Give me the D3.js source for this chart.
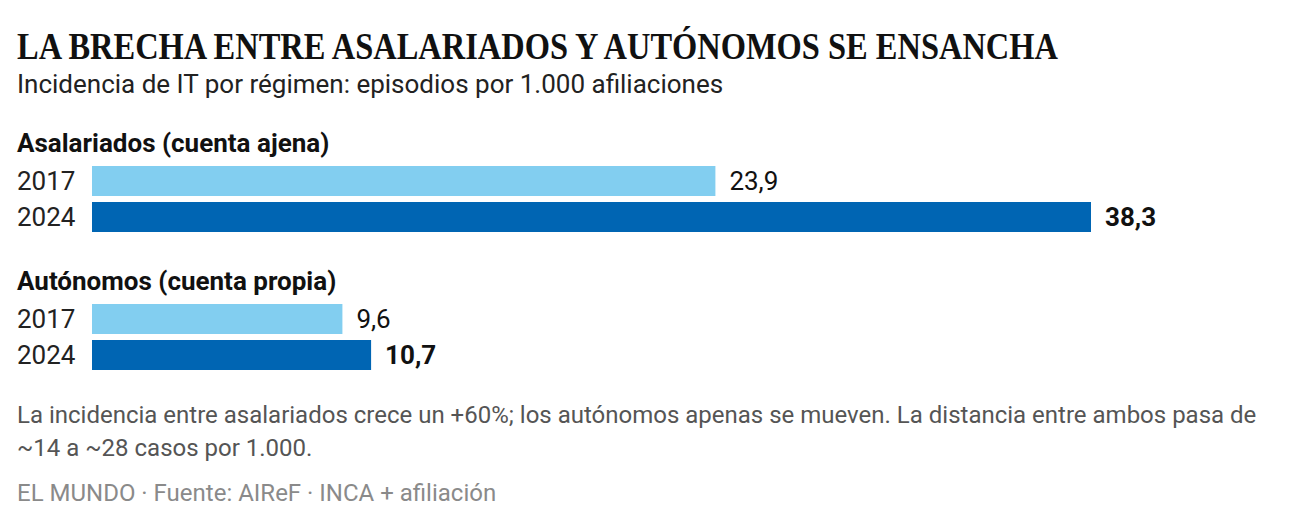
<!DOCTYPE html>
<html lang="es">
<head>
<meta charset="utf-8">
<style>
  body { margin: 0; background: #fff; }
  svg { display: block; }
  text { font-family: Roboto, "Noto Sans", sans-serif; }
</style>
</head>
<body>
<script src="https://d3js.org/d3.v7.min.js"></script>
<script>
  // data
  const groups = ["Asalariados (cuenta ajena)", "Autónomos (cuenta propia)"];
  const years = ["2017", "2024"];
  const values2017 = [23.9, 9.6];
  const values2024 = [38.3, 10.7];

  const width = 1292, height = 526;
  const colors = {"2017": "#82cef0", "2024": "#0065b3"};

  const svg = d3.select("body").append("svg")
    .attr("width", width)
    .attr("height", height);

  const es = d3.formatLocale({decimal: ",", thousands: ".", grouping: [3], currency: ["", " €"]});
  const fmt = es.format(".1f");

  // titles
  svg.append("text")
    .attr("x", 17).attr("y", 59)
    .attr("textLength", 1041)
    .attr("lengthAdjust", "spacingAndGlyphs")
    .style("font-family", "'Liberation Serif', 'DejaVu Serif', serif")
    .style("font-weight", 700)
    .style("font-size", "37px")
    .attr("fill", "#111")
    .text("LA BRECHA ENTRE ASALARIADOS Y AUTÓNOMOS SE ENSANCHA");

  svg.append("text")
    .attr("x", 17).attr("y", 93)
    .style("font-size", "26px")
    .attr("fill", "#222")
    .text("Incidencia de IT por régimen: episodios por 1.000 afiliaciones");

  // scales
  const x = d3.scaleLinear().domain([0, 38.3]).range([92, 1091]);
  const gy = d3.scaleBand().domain(groups).range([166, 442]).paddingInner(0).paddingOuter(0);
  const y = d3.scaleBand().domain(years).range([0, 66]).paddingInner(6 / 36);

  const rows = groups.map((g, i) => ({
    group: g,
    bars: [
      {year: "2017", value: values2017[i]},
      {year: "2024", value: values2024[i]}
    ]
  }));

  const g = svg.selectAll("g.group")
    .data(rows)
    .join("g")
    .attr("class", "group")
    .attr("transform", d => `translate(0,${gy(d.group)})`);

  g.append("text")
    .attr("x", 17).attr("y", -14)
    .style("font-size", "26px")
    .style("font-weight", 700)
    .attr("fill", "#111")
    .text(d => d.group);

  const b = g.selectAll("g.bar")
    .data(d => d.bars)
    .join("g")
    .attr("class", "bar")
    .attr("transform", d => `translate(0,${y(d.year)})`);

  b.append("rect")
    .attr("x", x(0))
    .attr("y", 0)
    .attr("height", y.bandwidth())
    .attr("width", d => x(d.value) - x(0))
    .attr("fill", d => colors[d.year]);

  b.append("text")
    .attr("x", 17)
    .attr("y", y.bandwidth() / 2)
    .attr("dy", "0.36em")
    .style("font-size", "26px")
    .attr("fill", "#222")
    .text(d => d.year);

  b.append("text")
    .attr("x", d => x(d.value) + 14)
    .attr("y", y.bandwidth() / 2)
    .attr("dy", "0.36em")
    .style("font-size", "26px")
    .style("font-weight", d => d.year === "2024" ? 700 : 400)
    .attr("fill", "#111")
    .text(d => fmt(d.value));

  // note + source
  const note = [
    "La incidencia entre asalariados crece un +60%; los autónomos apenas se mueven. La distancia entre ambos pasa de",
    "~14 a ~28 casos por 1.000."
  ];
  svg.selectAll("text.note")
    .data(note)
    .join("text")
    .attr("class", "note")
    .attr("x", 17)
    .attr("y", (d, i) => 423 + i * 33)
    .style("font-size", "24px")
    .attr("fill", "#555")
    .text(d => d);

  svg.append("text")
    .attr("x", 17).attr("y", 501)
    .style("font-size", "24px")
    .attr("fill", "#8a8a8a")
    .text("EL MUNDO · Fuente: AIReF · INCA + afiliación");
</script>
</body>
</html>
